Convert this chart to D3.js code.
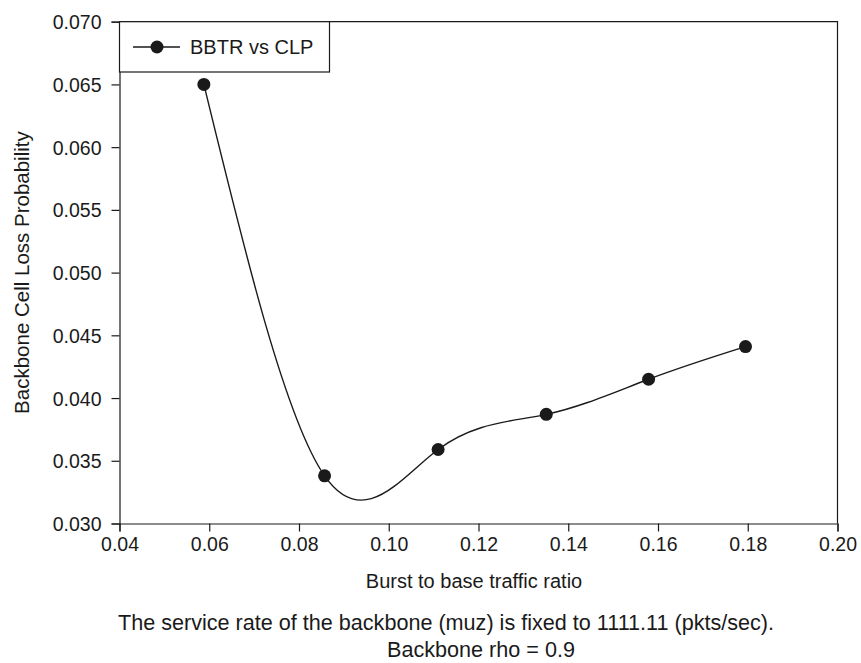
<!DOCTYPE html>
<html>
<head>
<meta charset="utf-8">
<script src="https://cdn.jsdelivr.net/npm/d3@7"></script>
<style>
  body { margin: 0; background: #fff; }
  svg text { font-family: "Liberation Sans", Arial, sans-serif; fill: #1a1a1a; }
</style>
</head>
<body>
<svg id="chart" width="861" height="663"></svg>
<script>
// burst to base traffic ratio vs backbone cell loss probability
var burstRatio = [0.0588, 0.0857, 0.1110, 0.1351, 0.1579, 0.1795];
var cellLoss = [0.0650, 0.0338, 0.0359, 0.0387, 0.0415, 0.0441];
var xTicks = [0.04, 0.06, 0.08, 0.10, 0.12, 0.14, 0.16, 0.18, 0.20];
var yTicks = [0.030, 0.035, 0.040, 0.045, 0.050, 0.055, 0.060, 0.065, 0.070];
var seriesName = "BBTR vs CLP";
var captionLines = ["The service rate of the backbone (muz) is fixed to 1111.11 (pkts/sec).", "Backbone rho = 0.9"];

var ink = "#1a1a1a";
var margin = {left: 119.5, right: 837.5, top: 21.7, bottom: 523.5};

var svg = d3.select("#chart");

var x = d3.scaleLinear().domain([0.04, 0.20]).range([margin.left, margin.right]);
var y = d3.scaleLinear().domain([0.030, 0.070]).range([margin.bottom, margin.top]);

// frame (top and right edges)
svg.append("path")
    .attr("d", "M" + margin.left + "," + margin.top + "H" + margin.right + "V" + margin.bottom)
    .attr("fill", "none")
    .attr("stroke", ink)
    .attr("stroke-width", 1.2);

var xAxis = svg.append("g")
    .attr("transform", "translate(0," + margin.bottom + ")")
    .call(d3.axisBottom(x).tickValues(xTicks).tickFormat(d3.format(".2f")).tickSizeOuter(0).tickSize(8).tickPadding(5));

var yAxis = svg.append("g")
    .attr("transform", "translate(" + margin.left + ",0)")
    .call(d3.axisLeft(y).tickValues(yTicks).tickFormat(d3.format(".3f")).tickSizeOuter(0).tickSize(8).tickPadding(10));

[xAxis, yAxis].forEach(function (g) {
    g.selectAll("path, line").attr("stroke", ink).attr("stroke-width", 1.2);
    g.selectAll("text").attr("font-size", "19.5px").attr("fill", ink)
        .attr("font-family", "'Liberation Sans', Arial, sans-serif");
});
yAxis.selectAll("text").attr("dy", "0.36em");
xAxis.selectAll("text").attr("dy", "0.72em");

// axis titles
svg.append("text")
    .attr("x", 474).attr("y", 588)
    .attr("text-anchor", "middle")
    .attr("font-size", "20px")
    .text("Burst to base traffic ratio");

svg.append("text")
    .attr("transform", "translate(28.5," + ((margin.top + margin.bottom) / 2) + ") rotate(-90)")
    .attr("text-anchor", "middle")
    .attr("font-size", "20.5px")
    .text("Backbone Cell Loss Probability");

// caption (first line sits a little left of the second, as in the source)
var captionX = [446, 481];
svg.selectAll(".caption")
    .data(captionLines)
    .enter().append("text")
    .attr("class", "caption")
    .attr("x", function (d, i) { return captionX[i]; })
    .attr("y", function (d, i) { return 630 + i * 27; })
    .attr("text-anchor", "middle")
    .attr("font-size", "21.6px")
    .text(function (d) { return d; });

// series
var pts = burstRatio.map(function (b, i) { return [b, cellLoss[i]]; });
var line = d3.line()
    .x(function (d) { return x(d[0]); })
    .y(function (d) { return y(d[1]); })
    .curve(d3.curveNatural);

svg.append("path")
    .datum(pts)
    .attr("d", line)
    .attr("fill", "none")
    .attr("stroke", ink)
    .attr("stroke-width", 1.4);

svg.selectAll(".dot")
    .data(pts)
    .enter().append("circle")
    .attr("class", "dot")
    .attr("cx", function (d) { return x(d[0]); })
    .attr("cy", function (d) { return y(d[1]); })
    .attr("r", 6.5)
    .attr("fill", ink);

// legend
var legend = svg.append("g");
legend.append("rect")
    .attr("x", margin.left).attr("y", margin.top)
    .attr("width", 329.5 - margin.left).attr("height", 72 - margin.top)
    .attr("fill", "#fff")
    .attr("stroke", ink)
    .attr("stroke-width", 1.2);
legend.append("line")
    .attr("x1", 133).attr("x2", 180).attr("y1", 47).attr("y2", 47)
    .attr("stroke", ink).attr("stroke-width", 1.4);
legend.append("circle")
    .attr("cx", 157).attr("cy", 47).attr("r", 6.5).attr("fill", ink);
legend.append("text")
    .attr("x", 190).attr("y", 54)
    .attr("font-size", "20px")
    .text(seriesName);
</script>
</body>
</html>
